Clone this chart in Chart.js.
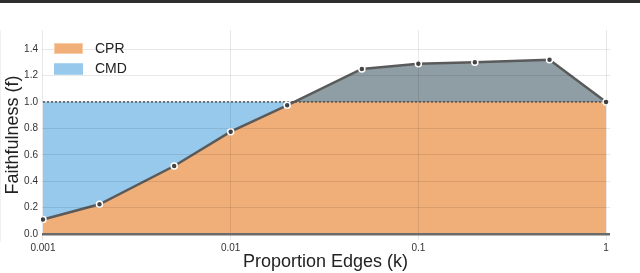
<!DOCTYPE html>
<html><head><meta charset="utf-8">
<script src="https://cdn.jsdelivr.net/npm/chart.js@4"></script>
<style>
html,body{margin:0;padding:0;background:#fff;overflow:hidden}
#wrap{position:absolute;left:0;top:0;width:640px;height:273px}
#bar{position:absolute;left:0;top:0;width:640px;height:3px;background:#2e2e2e}
</style></head><body>
<div id="wrap"><canvas id="c" width="640" height="273"></canvas></div>
<div id="bar"></div>
<script>
const proportionEdges = [0.001, 0.002, 0.005, 0.01, 0.02, 0.05, 0.1, 0.2, 0.5, 1];
const faithfulness = [0.11, 0.225, 0.515, 0.775, 0.975, 1.25, 1.29, 1.30, 1.32, 1.0];
const referenceX = [0.001, 1];
const referenceY = [1.0, 1.0];
const xTicks = [0.001, 0.01, 0.1, 1];
const xTickLabels = ['0.001', '0.01', '0.1', '1'];
const yTicks = [0, 0.2, 0.4, 0.6, 0.8, 1.0, 1.2, 1.4];
const seriesLabels = ['CPR', 'CMD'];

const ORANGE = '#F0AE78', BLUE = '#96C9EC', GRAY = '#8E9EA4', LINE = '#5a5a5a';
const pts = proportionEdges.map((x, i) => ({x, y: faithfulness[i]}));
const refPts = referenceX.map((x, i) => ({x, y: referenceY[i]}));

const legendPlugin = {
  id: 'insideLegend',
  afterDraw(chart) {
    const ctx = chart.ctx, ca = chart.chartArea;
    const items = [
      {label: seriesLabels[0], fill: ORANGE, stroke: '#F7CCA6'},
      {label: seriesLabels[1], fill: BLUE, stroke: BLUE}
    ];
    ctx.save();
    ctx.font = '14px "Liberation Sans", Arial, sans-serif';
    ctx.textBaseline = 'middle';
    items.forEach((it, i) => {
      const y = ca.top + 13 + i * 20.5;
      ctx.fillStyle = it.fill;
      ctx.fillRect(ca.left + 13, y, 29, 11);
      ctx.strokeStyle = it.stroke;
      ctx.lineWidth = 1;
      ctx.strokeRect(ca.left + 13.5, y + 0.5, 28, 10);
      ctx.fillStyle = '#222';
      ctx.fillText(it.label, ca.left + 54, y + 6);
    });
    ctx.restore();
  }
};

new Chart(document.getElementById('c'), {
  type: 'line',
  data: {
    datasets: [
      {
        label: seriesLabels[1], data: pts, order: 0,
        borderColor: LINE, borderWidth: 2.5, backgroundColor: BLUE,
        fill: {value: 1, above: GRAY, below: BLUE},
        pointRadius: 3, pointBackgroundColor: '#444', pointBorderColor: '#fff',
        pointBorderWidth: 1.5, tension: 0
      },
      {
        label: 'ref', data: refPts, order: 2,
        borderColor: '#555', borderWidth: 1.5, borderDash: [2, 2],
        pointRadius: 0, fill: false
      },
      {
        label: seriesLabels[0], data: pts, order: 3,
        borderColor: 'rgba(0,0,0,0)', borderWidth: 0, backgroundColor: ORANGE,
        fill: 'origin', pointRadius: 0, tension: 0
      }
    ]
  },
  options: {
    responsive: false, animation: false, devicePixelRatio: 1,
    layout: {padding: {top: 30, right: 30, left: 0, bottom: 0}},
    plugins: {
      legend: {display: false}, tooltip: {enabled: false},
      filler: {drawTime: 'beforeDatasetsDraw'}
    },
    scales: {
      x: {
        type: 'logarithmic', min: 0.000976, max: 1.05,
        afterBuildTicks: s => { s.ticks = xTicks.map(v => ({value: v})); },
        afterFit: s => { s.height = 33; },
        ticks: {
          autoSkip: false, maxRotation: 0, padding: 2, color: '#333',
          font: {size: 10, family: '"Liberation Sans", Arial, sans-serif'},
          callback: (v, i) => xTickLabels[i]
        },
        grid: {color: 'rgba(0,0,0,0.09)', drawTicks: false, z: 1},
        border: {display: true, color: '#e2e2e2', width: 1},
        title: {display: true, text: 'Proportion Edges (k)', color: '#222',
          font: {size: 18, family: '"Liberation Sans", Arial, sans-serif'}, padding: 0}
      },
      y: {
        type: 'linear', min: -0.0455, max: 1.545,
        afterBuildTicks: s => { s.ticks = yTicks.map(v => ({value: v})); },
        afterFit: s => { s.width = 41; },
        ticks: {
          padding: 3, color: '#333',
          font: {size: 10, family: '"Liberation Sans", Arial, sans-serif'},
          callback: v => v.toFixed(1)
        },
        grid: {
          drawTicks: false, z: 1,
          color: c => c.tick && c.tick.value === 0 ? '#6b6b6b' : 'rgba(0,0,0,0.09)',
          lineWidth: c => c.tick && c.tick.value === 0 ? 2.5 : 1
        },
        border: {display: true, color: '#e2e2e2', width: 1},
        title: {display: true, text: 'Faithfulness (f)', color: '#222',
          font: {size: 18, family: '"Liberation Sans", Arial, sans-serif'}, padding: {top: 2, bottom: 0}}
      }
    }
  },
  plugins: [legendPlugin]
});
</script>
</body></html>
